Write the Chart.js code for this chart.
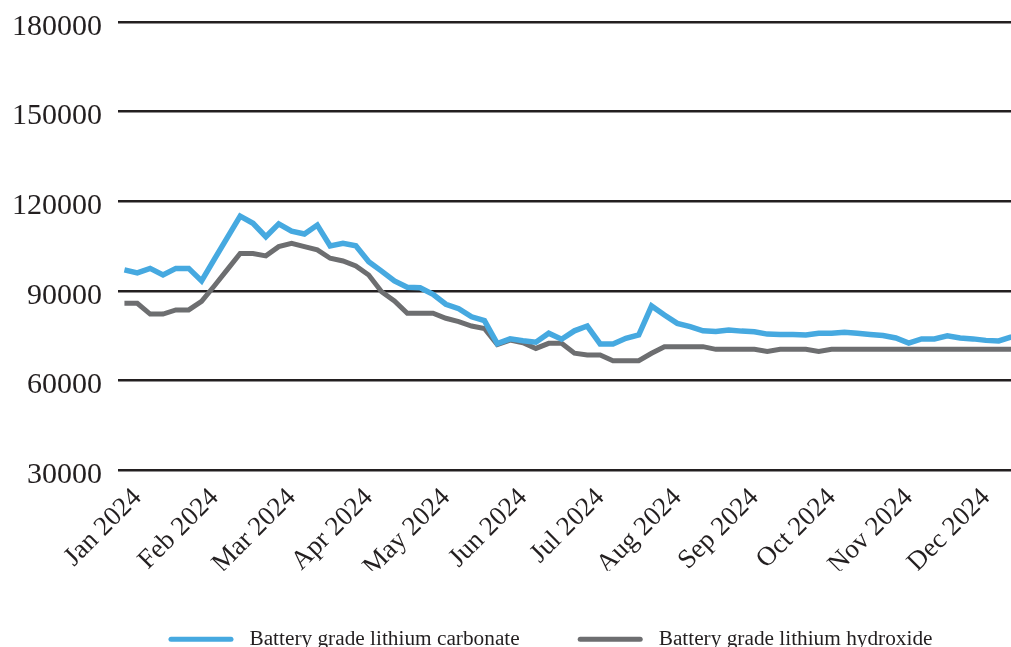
<!DOCTYPE html>
<html>
<head>
<meta charset="utf-8">
<script src="https://cdn.jsdelivr.net/npm/chart.js@4/dist/chart.umd.min.js"></script>
<style>
  html, body { margin: 0; padding: 0; background: #ffffff; overflow: hidden; }
  #wrap { position: relative; width: 1018px; height: 660px; }
</style>
</head>
<body>
<div id="wrap"><canvas id="chart"></canvas></div>
<script>
// Month tick labels; the price series is sampled six times per month.
const monthLabels = ['Jan 2024', 'Feb 2024', 'Mar 2024', 'Apr 2024', 'May 2024', 'Jun 2024',
                     'Jul 2024', 'Aug 2024', 'Sep 2024', 'Oct 2024', 'Nov 2024', 'Dec 2024'];
const samplesPerMonth = 6;

// Y axis tick values (CNY/t)
const yTicks = [30000, 60000, 90000, 120000, 150000, 180000];

// Battery grade lithium carbonate
const carbonate = [
  97000, 96000, 97500, 95300, 97500, 97500,
  93300, 100600, 107800, 115000, 112600, 108100,
  112400, 110000, 109000, 112000, 105000, 105900,
  105100, 99700, 96600, 93300, 91200, 91000,
  88800, 85500, 84000, 81300, 80000, 72300,
  73900, 73300, 72800, 75800, 73800, 76600,
  78200, 72200, 72200, 74100, 75200, 84900,
  81900, 79100, 78000, 76600, 76400, 76900,
  76500, 76300, 75500, 75400, 75400, 75200,
  75800, 75800, 76100, 75800, 75400, 75000,
  74200, 72500, 73900, 73900, 74900, 74200,
  73900, 73400, 73200, 74600
];

// Battery grade lithium hydroxide
const hydroxide = [
  85800, 85800, 82200, 82200, 83600, 83600,
  86500, 91700, 97100, 102500, 102500, 101700,
  104800, 105900, 104800, 103700, 100900, 100000,
  98300, 95300, 89700, 86600, 82500, 82500,
  82500, 80800, 79700, 78200, 77400, 72000,
  73500, 72600, 70700, 72400, 72400, 69100,
  68500, 68500, 66600, 66600, 66600, 69100,
  71300, 71300, 71300, 71300, 70400, 70400,
  70400, 70400, 69700, 70400, 70400, 70400,
  69700, 70400, 70400, 70400, 70400, 70400,
  70400, 70400, 70400, 70400, 70400, 70400,
  70400, 70400, 70400, 70400
];

// One category per sample: "<month> #<n>"
const categories = carbonate.map((_, i) => {
  const m = Math.floor(i / samplesPerMonth);
  return (monthLabels[m] || 'Dec 2024') + ' #' + (i % samplesPerMonth + 1);
});

const FONT = '"Liberation Serif", "Times New Roman", Times, serif';
const INK = '#231f20';

// Nudges the legend row to the right of the canvas centre.
const legendShift = {
  id: 'legendShift',
  afterLayout(chart) {
    const lg = chart.legend;
    if (lg) { lg.left += 41.5; lg.right += 41.5; }
  }
};

new Chart(document.getElementById('chart'), {
  type: 'line',
  data: {
    labels: categories,
    datasets: [
      {
        label: 'Battery grade lithium carbonate',
        data: carbonate,
        borderColor: '#46a9e0',
        backgroundColor: '#46a9e0',
        borderWidth: 5.5,
        pointRadius: 0,
        tension: 0
      },
      {
        label: 'Battery grade lithium hydroxide',
        data: hydroxide,
        borderColor: '#6d6e70',
        backgroundColor: '#6d6e70',
        borderWidth: 5,
        pointRadius: 0,
        tension: 0
      }
    ]
  },
  plugins: [legendShift],
  options: {
    responsive: true,
    maintainAspectRatio: false,
    animation: false,
    layout: { padding: { top: 22, left: 0, right: 0, bottom: 0 } },
    plugins: {
      tooltip: { enabled: false },
      legend: {
        position: 'bottom',
        align: 'center',
        labels: {
          font: { family: FONT, size: 21.3 },
          color: INK,
          boxWidth: 65,
          boxHeight: 5,
          padding: 58,
          generateLabels(chart) {
            const items = Chart.defaults.plugins.legend.labels.generateLabels(chart);
            items.forEach(it => {
              it.fillStyle = it.strokeStyle;
              it.lineWidth = 0;
              it.borderRadius = 2.5;
              it.text = ' ' + it.text;
            });
            return items;
          }
        }
      }
    },
    scales: {
      x: {
        type: 'category',
        offset: true,
        grid: { display: false, drawTicks: false },
        border: { display: false },
        ticks: {
          autoSkip: false,
          minRotation: 45,
          maxRotation: 45,
          padding: 12,
          labelOffset: 13,
          color: INK,
          font: { family: FONT, size: 27 },
          callback(value, index) {
            return index % samplesPerMonth === 0 ? monthLabels[index / samplesPerMonth] : '';
          }
        },
        afterFit(scale) {
          scale.height = 100.7;
          scale.paddingLeft = 0;
          scale.paddingRight = 0;
        }
      },
      y: {
        min: 30000,
        max: 180000,
        grid: { color: INK, lineWidth: 2.5, drawTicks: false },
        border: { display: false },
        afterBuildTicks(scale) { scale.ticks = yTicks.map(v => ({ value: v })); },
        ticks: {
          padding: 16,
          labelOffset: 5,
          color: INK,
          font: { family: FONT, size: 30 },
          callback(value) { return String(value); }
        },
        afterFit(scale) {
          scale.width = 118;
          scale.paddingTop = 0;
          scale.paddingBottom = 0;
        }
      }
    }
  }
});
</script>
</body>
</html>
